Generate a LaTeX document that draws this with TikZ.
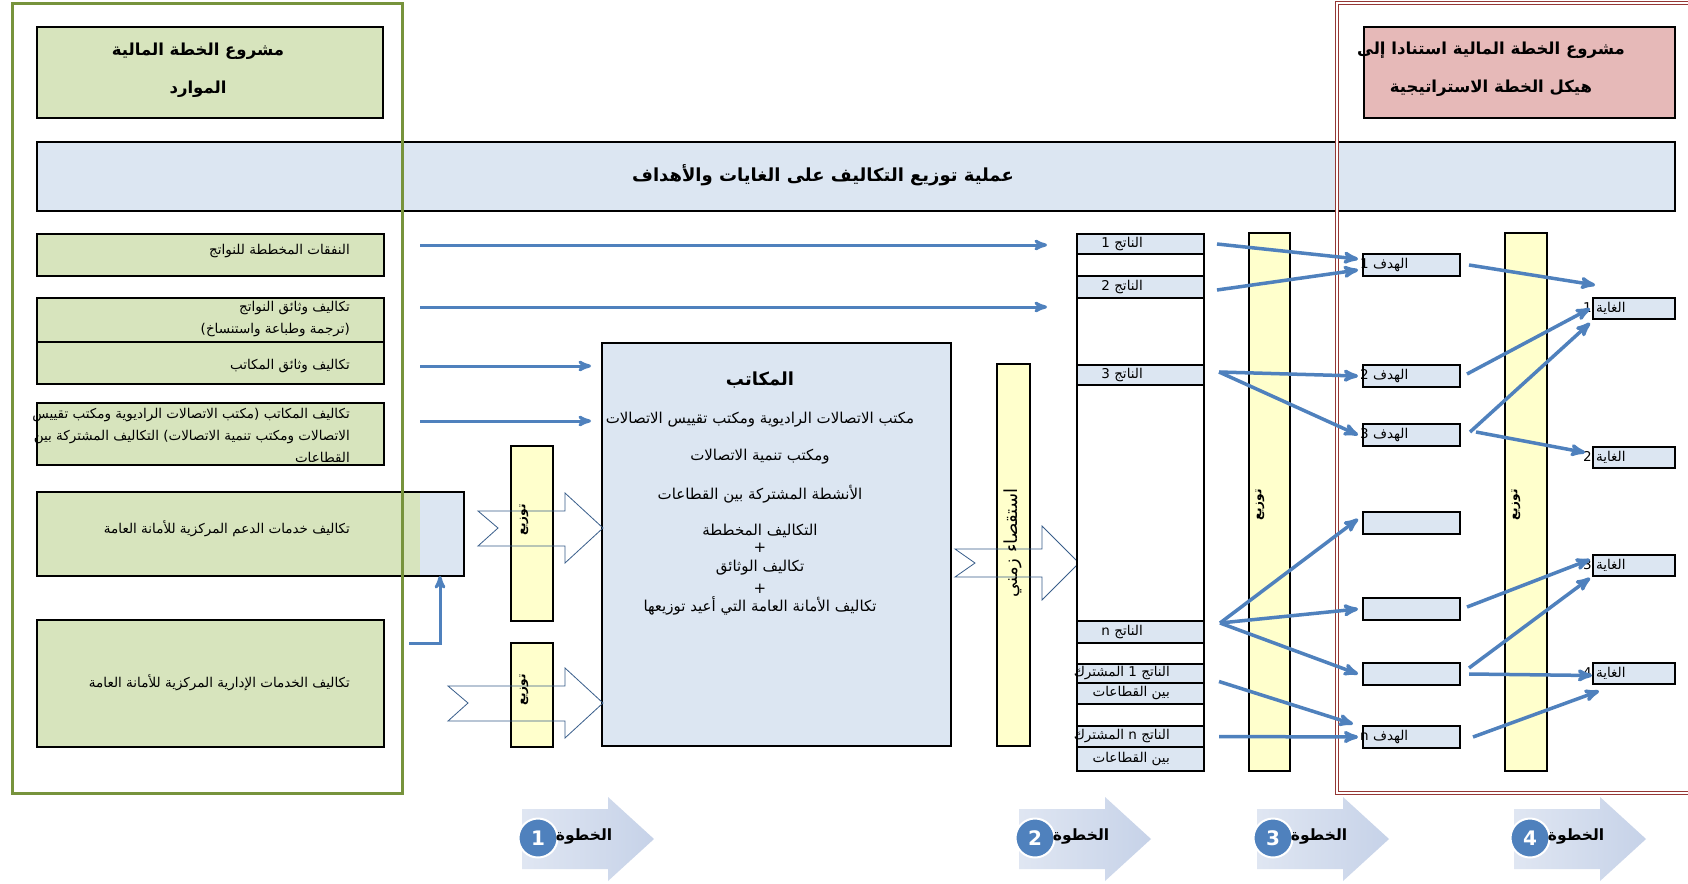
\documentclass[tikz,border=0pt]{standalone}
\usepackage{fontspec}
\newfontfamily\arabicfont[Script=Arabic]{DejaVu Sans}
\TeXXeTstate=1
\newcommand{\ar}[1]{\beginR #1\endR}
\usetikzlibrary{calc}
\usetikzlibrary{arrows}

\definecolor{boxgreen}{HTML}{D7E4BD}
\definecolor{boxblue}{HTML}{DCE6F2}
\definecolor{boxpink}{HTML}{E6B9B8}
\definecolor{baryellow}{HTML}{FFFFCC}
\definecolor{framegreen}{HTML}{77933C}
\definecolor{framered}{HTML}{953735}
\definecolor{arrowblue}{HTML}{4F81BD}
\definecolor{chevblue}{HTML}{385D8A}
\definecolor{stepblue}{HTML}{C6D2E8}

\begin{document}
\begin{tikzpicture}[x=1pt, y=-1pt,
  every node/.style={font=\arabicfont},
  box/.style={draw=black, line width=1.5pt, anchor=north west, inner sep=0pt, outer sep=0pt},
  greenbox/.style={box, fill=boxgreen},
  bluebox/.style={box, fill=boxblue},
  bar/.style={box, fill=baryellow, line width=2pt},
  title/.style={inner sep=0pt, align=center, font=\arabicfont\bfseries\fontsize{16.5}{38}\selectfont},
  txt/.style={inner sep=0pt, align=right, anchor=east, font=\arabicfont\fontsize{13.5}{22}\selectfont},
  rowtxt/.style={inner sep=0pt, font=\arabicfont\fontsize{13.5}{15}\selectfont},
  offtxt/.style={inner sep=0pt, font=\arabicfont\fontsize{15}{17}\selectfont},
  bartxt/.style={inner sep=0pt, rotate=90, font=\arabicfont\bfseries\fontsize{12}{14}\selectfont},
  link/.style={draw=arrowblue, line width=3.5pt, ->, >=stealth'},
  chev/.style={draw=chevblue, line width=0.8pt},
  stepdot/.style={circle, fill=arrowblue, draw=white, line width=2pt, minimum size=39pt, inner sep=0pt, text=white, font=\arabicfont\bfseries\fontsize{20}{20}\selectfont},
  steptxt/.style={inner sep=0pt, font=\arabicfont\bfseries\fontsize{15.5}{15.5}\selectfont}]
\useasboundingbox (0,0) rectangle (1688,883);
\fill[white] (0,0) rectangle (1688,883);

% titles
\node[greenbox, minimum width=346, minimum height=91] (plan) at (37,27) {};
\node[title] (plan-t) at (198,70) {\ar{مشروع الخطة المالية}\\\ar{الموارد}};
\node[box, fill=boxpink, minimum width=311, minimum height=91] (strat) at (1364,27) {};
\node[title] (strat-t) at (1491,69) {\ar{مشروع الخطة المالية استنادا إلى}\\\ar{هيكل الخطة الاستراتيجية}};
\node[bluebox, minimum width=1638, minimum height=69] (banner) at (37,142) {};
\node[title, font=\arabicfont\bfseries\fontsize{18}{20}\selectfont] (banner-t) at (823,175) {\ar{عملية توزيع التكاليف على الغايات والأهداف}};

% resources
\node[greenbox, minimum width=347, minimum height=42] (boxA) at (37,234) {};
\node[greenbox, minimum width=347, minimum height=44] (boxB) at (37,298) {};
\node[greenbox, minimum width=347, minimum height=42] (boxC) at (37,342) {};
\node[greenbox, minimum width=347, minimum height=62] (boxD) at (37,403) {};
\node[greenbox, minimum width=427, minimum height=84,
  path picture={\fill[boxblue] ([xshift=-44pt]path picture bounding box.north east) rectangle (path picture bounding box.south east);}] (boxE) at (37,492) {};
\node[greenbox, minimum width=347, minimum height=127] (boxF) at (37,620) {};
\node[txt] (boxA-t) at (350,251) {\ar{النفقات المخططة للنواتج}};
\node[txt] (boxB-t) at (350,319) {\ar{تكاليف وثائق النواتج}\\\ar{(ترجمة وطباعة واستنساخ)}};
\node[txt] (boxC-t) at (350,366) {\ar{تكاليف وثائق المكاتب}};
\node[txt] (boxD-t) at (350,435) {\ar{تكاليف المكاتب (مكتب الاتصالات الراديوية ومكتب تقييس}\\\ar{الاتصالات ومكتب تنمية الاتصالات) التكاليف المشتركة بين}\\\ar{القطاعات}};
\node[txt] (boxE-t) at (350,529) {\ar{تكاليف خدمات الدعم المركزية للأمانة العامة}};
\node[txt] (boxF-t) at (350,683) {\ar{تكاليف الخدمات الإدارية المركزية للأمانة العامة}};

% step 1 and 2
\node[bar, minimum width=42, minimum height=175] (dist1) at (511,446) {};
\node[bar, minimum width=42, minimum height=104] (dist2) at (511,643) {};
\node[bluebox, minimum width=349, minimum height=403] (offices) at (602,343) {};
\node[title, font=\arabicfont\bfseries\fontsize{18}{20}\selectfont] (offices-t) at (760,380) {\ar{المكاتب}};
\foreach \y/\t in {420/{مكتب الاتصالات الراديوية ومكتب تقييس الاتصالات}, 457/{ومكتب تنمية الاتصالات},
  494/{الأنشطة المشتركة بين القطاعات}, 531/{التكاليف المخططة}, 548/{+}, 568/{تكاليف الوثائق}, 589/{+},
  606/{تكاليف الأمانة العامة التي أعيد توزيعها}}
  \node[offtxt] (off-\y) at (760,\y) {\ar{\t}};
\node[bar, minimum width=33, minimum height=382] (timing) at (997,364) {};
\draw[chev] (478,511) -- (565,511) -- (565,493) -- (603,528) -- (565,563) -- (565,546) -- (478,546) -- (498,528) -- cycle;
\draw[chev] (448,686) -- (565,686) -- (565,668) -- (603,703) -- (565,738) -- (565,721) -- (448,721) -- (468,703) -- cycle;
\draw[chev] (955,549) -- (1042,549) -- (1042,526) -- (1079,563) -- (1042,600) -- (1042,577) -- (955,577) -- (975,563) -- cycle;
\node[bartxt] (dist1-t) at (524,520) {\ar{توزيع}};
\node[bartxt] (dist2-t) at (524,690) {\ar{توزيع}};
\node[bartxt, font=\arabicfont\fontsize{18}{20}\selectfont] (timing-t) at (1013,543) {\ar{استقصاء زمني}};

% outputs
\foreach \nm/\ya/\yb/\c in {out1/234/254/boxblue, ow1/254/276/white, out2/276/298/boxblue, ow2/298/365/white,
  out3/365/385/boxblue, ow3/385/621/white, outn/621/643/boxblue, ow4/643/664/white, sh1/664/683/boxblue,
  sh1b/683/704/boxblue, ow5/704/726/white, shn/726/747/boxblue, shnb/747/771/boxblue}
  \node[box, fill=\c, minimum width=127, minimum height={\yb-\ya}] (\nm) at (1077,\ya) {};
\foreach \nm/\dx/\t in {out1/61/{الناتج 1}, out2/61/{الناتج 2}, out3/61/{الناتج 3}, outn/61/{الناتج n},
  sh1/34/{الناتج 1 المشترك}, sh1b/34/{بين القطاعات}, shn/34/{الناتج n المشترك}, shnb/34/{بين القطاعات}}
  \node[rowtxt, anchor=east] (\nm-t) at ([xshift=-\dx pt]\nm.east) {\ar{\t}};

% step 3 and 4
\node[bar, minimum width=41, minimum height=538] (objbar) at (1249,233) {};
\node[bar, minimum width=42, minimum height=538] (goalbar) at (1505,233) {};
\node[bartxt] (objbar-t) at (1260,505) {\ar{توزيع}};
\node[bartxt] (goalbar-t) at (1516,505) {\ar{توزيع}};
\foreach \nm/\y/\t in {h1/254/{الهدف 1}, h2/365/{الهدف 2}, h3/424/{الهدف 3}, h4/512/{}, h5/598/{}, h6/663/{}, hn/726/{الهدف n}} {
  \node[bluebox, minimum width=97, minimum height=22] (\nm) at (1363,\y) {};
  \node[rowtxt, anchor=west] (\nm-t) at ([xshift=-3pt]\nm.west) {\ar{\t}};
}
\foreach \nm/\y/\t in {g1/298/{الغاية 1}, g2/447/{الغاية 2}, g3/555/{الغاية 3}, g4/663/{الغاية 4}} {
  \node[bluebox, minimum width=82, minimum height=21] (\nm) at (1593,\y) {};
  \node[rowtxt, anchor=west] (\nm-t) at ([xshift=-10pt]\nm.west) {\ar{\t}};
}

\draw[framegreen, line width=3pt] (12,4) rectangle (402,793);
\draw[framered, line width=1.2pt, double=white, double distance=1.5pt] (1337,3) rectangle (1700,793);

% arrows
\draw[link, line width=3pt] ([xshift=25pt,yshift=-23pt]boxF.north east) -| ([xshift=-24pt]boxE.south east);
\draw[link, line width=3pt] ([xshift=36pt,yshift=10pt]boxA.east) -- ([xshift=-30pt,yshift=-1pt]out1.west);
\draw[link, line width=3pt] ([xshift=36pt,yshift=13pt]boxB.east) -- ([xshift=-30pt,yshift=-20pt]out2.west);
\draw[link, line width=3pt] ([xshift=36pt,yshift=-3pt]boxC.east) -- ([xshift=-11pt,yshift=178.5pt]offices.west);
\draw[link, line width=3pt] ([xshift=36pt,yshift=13pt]boxD.east) -- ([xshift=-11pt,yshift=123.5pt]offices.west);
\draw[link] ([xshift=13pt]out1.east) -- ([xshift=-5pt,yshift=6pt]h1.west);
\draw[link] ([xshift=13pt,yshift=-3pt]out2.east) -- ([xshift=-5pt,yshift=-5pt]h1.west);
\draw[link] ([xshift=15pt,yshift=3pt]out3.east) -- ([xshift=-5pt]h2.west);
\draw[link] ([xshift=15pt,yshift=3pt]out3.east) -- ([xshift=-5pt]h3.west);
\draw[link] ([xshift=16pt,yshift=9pt]outn.east) -- ([xshift=-5pt,yshift=4pt]h4.west);
\draw[link] ([xshift=16pt,yshift=9pt]outn.east) -- ([xshift=-5pt]h5.west);
\draw[link] ([xshift=16pt,yshift=9pt]outn.east) -- ([xshift=-5pt]h6.west);
\draw[link] ([xshift=15pt,yshift=-8pt]sh1.east) -- ([xshift=-10pt,yshift=2pt]hn.north west);
\draw[link] ([xshift=15pt]shn.east) -- ([xshift=-5pt]hn.west);
\draw[link] ([xshift=9pt]h1.east) -- ([xshift=2pt,yshift=13pt]g1.north west);
\draw[link] ([xshift=7pt,yshift=2pt]h2.east) -- ([xshift=-3pt]g1.west);
\draw[link] ([xshift=10pt,yshift=3pt]h3.east) -- ([xshift=-3pt,yshift=-4pt]g1.south west);
\draw[link] ([xshift=16pt,yshift=3pt]h3.east) -- ([xshift=-8pt,yshift=5pt]g2.west);
\draw[link] ([xshift=7pt,yshift=2pt]h5.east) -- ([xshift=-3pt,yshift=6pt]g3.west);
\draw[link] ([xshift=9pt,yshift=6pt]h6.east) -- ([xshift=-3pt,yshift=-2pt]g3.south west);
\draw[link] ([xshift=9pt]h6.east) -- ([xshift=-1pt,yshift=-2pt]g4.west);
\draw[link] ([xshift=13pt]hn.east) -- ([xshift=6pt,yshift=-7pt]g4.south west);

% steps
\foreach \i/\x in {1/522,2/1019,3/1257,4/1514} {
  \shade[left color=stepblue!55, right color=stepblue] (\x,809) -- (\x+86,809) -- (\x+86,797) -- (\x+132,839)
    -- (\x+86,881) -- (\x+86,869) -- (\x,869) -- cycle;
  \node[stepdot] (step\i) at (\x+16,838) {\i};
  \node[steptxt] (step\i-t) at (\x+62,836) {\ar{الخطوة}};
}
\end{tikzpicture}
\end{document}
